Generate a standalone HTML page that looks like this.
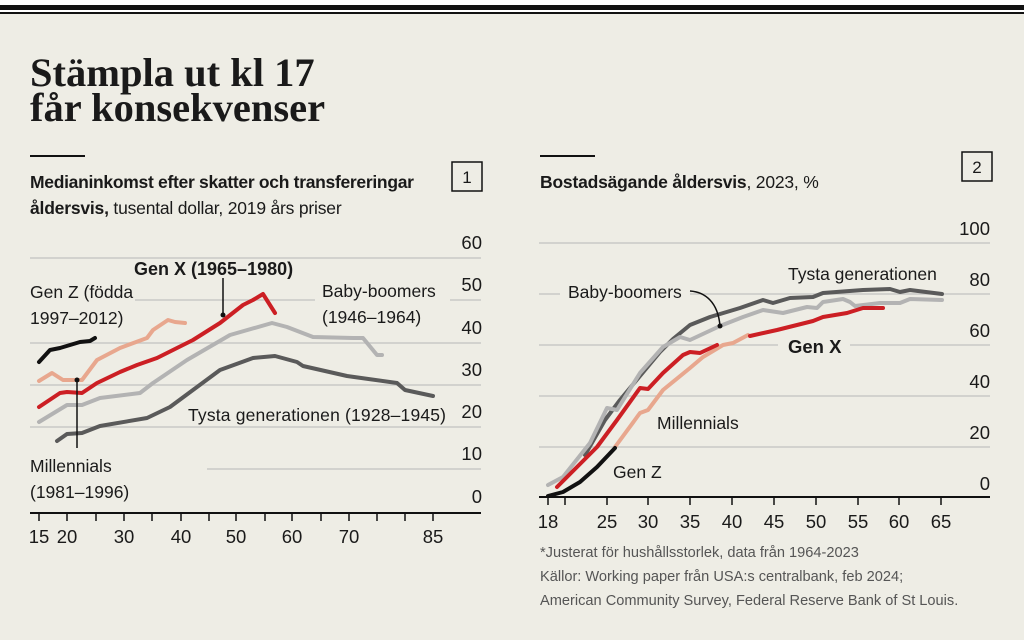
<!DOCTYPE html>
<html><head><meta charset="utf-8"><style>
body{margin:0;width:1024px;height:640px;overflow:hidden;background:#fff}
svg{display:block}
text{font-family:"Liberation Sans",sans-serif;fill:#1a1a1a}
</style></head><body>
<svg width="1024" height="640" viewBox="0 0 1024 640">
<rect x="0" y="12" width="1024" height="628" fill="#eeede5"/>
<rect x="0" y="5" width="1024" height="5" fill="#111"/>
<rect x="0" y="12" width="1024" height="2" fill="#111"/>
<text x="30" y="86" style="font-family:'Liberation Serif',serif;font-weight:bold;font-size:40.5px">Stämpla ut kl 17</text>
<text x="30" y="121" style="font-family:'Liberation Serif',serif;font-weight:bold;font-size:40.5px">får konsekvenser</text>
<rect x="30" y="155" width="55" height="2" fill="#111"/>
<rect x="540" y="155" width="55" height="2" fill="#111"/>
<text x="30" y="188" font-size="17.5" font-weight="bold" letter-spacing="-0.3">Medianinkomst efter skatter och transfereringar</text>
<text x="30" y="214" font-size="17.5" letter-spacing="-0.2"><tspan font-weight="bold">åldersvis,</tspan> tusental dollar, 2019 års priser</text>
<rect x="452" y="162" width="30" height="29" fill="none" stroke="#111" stroke-width="1.5"/>
<text x="467" y="183" font-size="17" text-anchor="middle">1</text>
<text x="540" y="188" font-size="17.5" letter-spacing="-0.2"><tspan font-weight="bold">Bostadsägande åldersvis</tspan>, 2023, %</text>
<rect x="962" y="152" width="30" height="29" fill="none" stroke="#111" stroke-width="1.5"/>
<text x="977" y="173" font-size="17" text-anchor="middle">2</text>

<g stroke="#c9c9c6" stroke-width="1.5">
<line x1="30" y1="258" x2="481" y2="258"/>
<line x1="135" y1="300" x2="315" y2="300"/><line x1="450" y1="300" x2="481" y2="300"/>
<line x1="30" y1="343" x2="481" y2="343"/>
<line x1="30" y1="385" x2="481" y2="385"/>
<line x1="30" y1="427" x2="481" y2="427"/>
<line x1="207" y1="469" x2="481" y2="469"/>
</g>
<g font-size="18.5" text-anchor="end">
<text x="482" y="249">60</text><text x="482" y="291">50</text><text x="482" y="334">40</text><text x="482" y="376">30</text><text x="482" y="418">20</text><text x="482" y="460">10</text><text x="482" y="503">0</text>
</g>
<line x1="30" y1="513" x2="481" y2="513" stroke="#111" stroke-width="2"/>
<g stroke="#111" stroke-width="1.5">
<line x1="39" y1="513" x2="39" y2="521"/><line x1="67" y1="513" x2="67" y2="521"/><line x1="96" y1="513" x2="96" y2="521"/><line x1="124" y1="513" x2="124" y2="521"/><line x1="152" y1="513" x2="152" y2="521"/><line x1="181" y1="513" x2="181" y2="521"/><line x1="209" y1="513" x2="209" y2="521"/><line x1="236" y1="513" x2="236" y2="521"/><line x1="265" y1="513" x2="265" y2="521"/><line x1="292" y1="513" x2="292" y2="521"/><line x1="321" y1="513" x2="321" y2="521"/><line x1="349" y1="513" x2="349" y2="521"/><line x1="377" y1="513" x2="377" y2="521"/><line x1="405" y1="513" x2="405" y2="521"/><line x1="433" y1="513" x2="433" y2="521"/>
</g>
<g font-size="18.5" text-anchor="middle">
<text x="39" y="543">15</text><text x="67" y="543">20</text><text x="124" y="543">30</text><text x="181" y="543">40</text><text x="236" y="543">50</text><text x="292" y="543">60</text><text x="349" y="543">70</text><text x="433" y="543">85</text>
</g>
<g fill="none" stroke-width="4" stroke-linejoin="round" stroke-linecap="round">
<polyline stroke="#5a5a5a" points="57,441 67,434 82,433 100,426 147,418 170,407 220,370 253,358 275,356 297,362 303,366 347,376 397,383 405,390 433,396"/>
<polyline stroke="#b3b3b3" points="39,422 67,405 82,405 100,398 140,393 153,383 187,360 230,335 272,323 287,327 313,337 353,338 363,338 377,355 382,355"/>
<polyline stroke="#e8a78e" points="39,381 52,373 63,380 82,380 97,360 120,348 147,338 153,330 168,320 175,322 185,323"/>
<polyline stroke="#cc1f24" points="39,407 60,393 67,392 82,393 97,383 120,372 137,365 157,358 167,353 193,340 220,323 243,305 253,300 263,294 275,313"/>
<polyline stroke="#111" points="39,362 50,350 60,348 70,345 80,342 90,341 95,338"/>
</g>
<line x1="223" y1="278" x2="223" y2="315" stroke="#111" stroke-width="1.5"/><circle cx="223" cy="315" r="2.5" fill="#111"/>
<line x1="77" y1="380" x2="77" y2="448" stroke="#111" stroke-width="1.5"/><circle cx="77" cy="380" r="2.5" fill="#111"/>
<text x="134" y="275" font-size="18" font-weight="bold">Gen X (1965–1980)</text>
<g font-size="17.5">
<text x="30" y="298">Gen Z (födda</text><text x="30" y="324">1997–2012)</text>
<text x="322" y="297">Baby-boomers</text><text x="322" y="323">(1946–1964)</text>
<text x="188" y="421" textLength="258">Tysta generationen (1928–1945)</text>
<text x="30" y="472">Millennials</text><text x="30" y="498">(1981–1996)</text>
</g>

<g stroke="#c9c9c6" stroke-width="1.5">
<line x1="539" y1="243" x2="990" y2="243"/>
<line x1="539" y1="294" x2="560" y2="294"/><line x1="690" y1="294" x2="990" y2="294"/>
<line x1="539" y1="345" x2="778" y2="345"/><line x1="850" y1="345" x2="990" y2="345"/>
<line x1="539" y1="396" x2="990" y2="396"/>
<line x1="539" y1="447" x2="990" y2="447"/>
</g>
<g font-size="18.5" text-anchor="end">
<text x="990" y="235">100</text><text x="990" y="286">80</text><text x="990" y="337">60</text><text x="990" y="388">40</text><text x="990" y="439">20</text><text x="990" y="490">0</text>
</g>
<line x1="539" y1="497" x2="990" y2="497" stroke="#111" stroke-width="2"/>
<g stroke="#111" stroke-width="1.5">
<line x1="548" y1="497" x2="548" y2="505"/><line x1="565" y1="497" x2="565" y2="505"/><line x1="607" y1="497" x2="607" y2="505"/><line x1="648" y1="497" x2="648" y2="505"/><line x1="690" y1="497" x2="690" y2="505"/><line x1="732" y1="497" x2="732" y2="505"/><line x1="774" y1="497" x2="774" y2="505"/><line x1="816" y1="497" x2="816" y2="505"/><line x1="858" y1="497" x2="858" y2="505"/><line x1="899" y1="497" x2="899" y2="505"/><line x1="941" y1="497" x2="941" y2="505"/>
</g>
<g font-size="18.5" text-anchor="middle">
<text x="548" y="528">18</text><text x="607" y="528">25</text><text x="648" y="528">30</text><text x="690" y="528">35</text><text x="732" y="528">40</text><text x="774" y="528">45</text><text x="816" y="528">50</text><text x="858" y="528">55</text><text x="899" y="528">60</text><text x="941" y="528">65</text>
</g>
<g fill="none" stroke-width="4" stroke-linejoin="round" stroke-linecap="round">
<polyline stroke="#5a5a5a" points="585,455 605,420 620,400 640,376 660,352 673,339 690,325 710,317 740,308 763,300 773,303 790,298 813,297 823,293 863,290 890,289 900,292 910,290 942,294"/>
<polyline stroke="#b3b3b3" points="548,485 563,477 590,443 607,408 617,410 640,373 663,347 680,337 690,340 720,326 743,317 763,310 783,313 807,307 817,308 823,302 843,299 850,302 855,306 880,303 900,303 910,299 942,300"/>
<polyline stroke="#e8a78e" points="615,447 640,413 648,410 663,390 690,368 703,357 723,345 733,343 748,335"/>
<polyline stroke="#cc1f24" points="557,487 597,447 617,420 640,388 648,389 663,373 683,355 690,352 700,353 717,345"/>
<polyline stroke="#cc1f24" points="750,336 777,330 813,321 823,317 847,313 863,308 883,308"/>
<polyline stroke="#111" points="548,496 563,492 580,482 597,467 615,448"/>
</g>
<path d="M690,291 C705,292 718,302 720,326" fill="none" stroke="#111" stroke-width="1.5"/><circle cx="720" cy="326" r="2.5" fill="#111"/>
<g font-size="17.5">
<text x="788" y="280">Tysta generationen</text>
<text x="568" y="298">Baby-boomers</text>
<text x="657" y="429">Millennials</text>
<text x="613" y="478">Gen Z</text>
</g>
<text x="788" y="353" font-size="18.5" font-weight="bold">Gen X</text>
<g font-size="14.6">
<text x="540" y="557" style="fill:#555">*Justerat för hushållsstorlek, data från 1964-2023</text>
<text x="540" y="581" style="fill:#555">Källor: Working paper från USA:s centralbank, feb 2024;</text>
<text x="540" y="605" style="fill:#555">American Community Survey, Federal Reserve Bank of St Louis.</text>
</g>
</svg>
</body></html>
